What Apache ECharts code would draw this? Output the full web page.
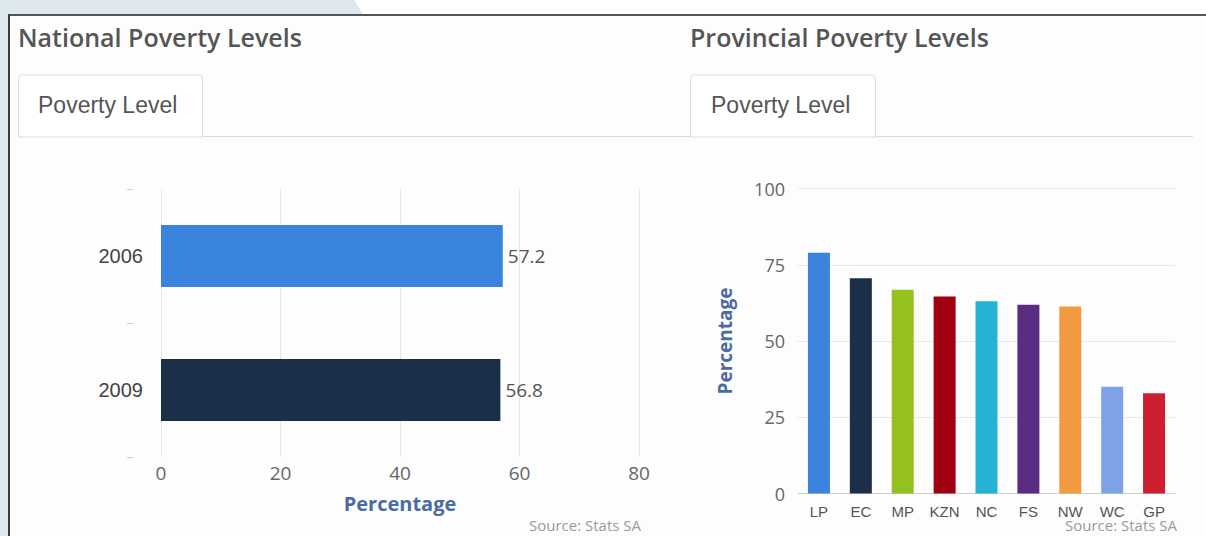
<!DOCTYPE html>
<html>
<head>
<meta charset="utf-8">
<script src="https://cdn.jsdelivr.net/npm/echarts@6/dist/echarts.min.js"></script>
<style>
  html, body { margin: 0; padding: 0; width: 1206px; height: 536px; overflow: hidden; background: #dde9ee; }
  #topband { position: absolute; left: 0; top: 0; width: 1206px; height: 14px; background: #ffffff;
    clip-path: polygon(354px 0, 1206px 0, 1206px 14px, 363px 14px); }
  #frame { position: absolute; left: 8px; top: 14px; width: 1198px; height: 522px; background: #fdfdfd;
    border-top: 2px solid #555; border-left: 2px solid #3a3a3a; box-sizing: border-box; }
  #chart { position: absolute; left: 0; top: 0; width: 1206px; height: 536px; }
</style>
</head>
<body>
<div id="topband"></div>
<div id="frame"></div>
<div id="chart"></div>
<script>
// ---- data ----
const nationalYears = ['2006', '2009'];
const nationalValues = [57.2, 56.8];
const nationalTicks = [0, 20, 40, 60, 80];

const provinces = ['LP', 'EC', 'MP', 'KZN', 'NC', 'FS', 'NW', 'WC', 'GP'];
const provincialValues = [78.9, 70.6, 66.8, 64.6, 63.0, 61.9, 61.3, 35.0, 32.9];
const provincialTicks = [0, 25, 50, 75, 100];

// ---- styles ----
const nationalColors = ['#3a84de', '#1c2f48'];
const provincialColors = ['#3a84de', '#1c2f48', '#95c11f', '#a00010', '#24b3d4', '#5b2d82', '#f39a40', '#7da3e6', '#cc2030'];

const titleFont = '"Open Sans", "Noto Sans", sans-serif';
const tabFont = '"Liberation Sans", Arial, sans-serif';
const numFont = '"Open Sans", "Noto Sans", sans-serif';

const chart = echarts.init(document.getElementById('chart'), null, { renderer: 'svg' });

function tab(x, w) {
  return {
    type: 'rect', shape: { x: x, y: 75, width: w, height: 62, r: [4, 4, 0, 0] },
    style: { fill: '#ffffff', stroke: '#dcdcdc', lineWidth: 1 }, z: 1
  };
}
function hline(x1, x2) {
  return { type: 'line', shape: { x1: x1, y1: 136.5, x2: x2, y2: 136.5 }, style: { stroke: '#dcdcdc', lineWidth: 1 }, z: 1 };
}

const option = {
  animation: false,
  backgroundColor: 'transparent',
  title: [
    { text: 'National Poverty Levels', left: 13, top: 19,
      textStyle: { fontFamily: titleFont, fontSize: 25, fontWeight: 600, color: '#555555' } },
    { text: 'Provincial Poverty Levels', left: 685, top: 19,
      textStyle: { fontFamily: titleFont, fontSize: 25, fontWeight: 600, color: '#555555' } }
  ],
  graphic: [
    hline(202, 657), hline(650, 690), hline(875, 1193),
    tab(18.5, 184), tab(690.5, 185),
    { type: 'text', left: 38, top: 93, z: 2,
      style: { text: 'Poverty Level', fontFamily: tabFont, fontSize: 23, fill: '#555555' } },
    { type: 'text', left: 711, top: 93, z: 2,
      style: { text: 'Poverty Level', fontFamily: tabFont, fontSize: 23, fill: '#555555' } },
    { type: 'text', right: 1206 - 641, top: 517, z: 2,
      style: { text: 'Source: Stats SA', fontFamily: numFont, fontSize: 15, fill: '#9a9a9a' } },
    { type: 'text', right: 1206 - 1177, top: 517, z: 2,
      style: { text: 'Source: Stats SA', fontFamily: numFont, fontSize: 15, fill: '#9a9a9a' } }
  ],
  grid: [
    { left: 161, top: 189, width: 478, height: 268 },
    { left: 798, top: 188.5, width: 377, height: 305 }
  ],
  xAxis: [
    { type: 'value', gridIndex: 0, min: nationalTicks[0], max: nationalTicks[nationalTicks.length - 1], interval: 20,
      axisLine: { show: false }, axisTick: { show: false },
      splitLine: { lineStyle: { color: '#e6e6e6' } },
      axisLabel: { fontFamily: numFont, fontSize: 19, color: '#666666', margin: 6 },
      name: 'Percentage', nameLocation: 'middle', nameGap: 36,
      nameTextStyle: { fontFamily: titleFont, fontSize: 20, fontWeight: 'bold', color: '#4a6ba3' } },
    { type: 'category', gridIndex: 1, data: provinces,
      axisLine: { lineStyle: { color: '#cfcfcf' } },
      axisTick: { alignWithLabel: true, length: 5, lineStyle: { color: '#cfcfcf' } },
      axisLabel: { fontFamily: tabFont, fontSize: 15, color: '#555555', margin: 10, interval: 0 } }
  ],
  yAxis: [
    { type: 'category', gridIndex: 0, data: nationalYears, inverse: true,
      axisLine: { show: false }, axisTick: { show: false },
      axisLabel: { fontFamily: tabFont, fontSize: 20, color: '#444444', margin: 18 } },
    { type: 'value', gridIndex: 1, min: provincialTicks[0], max: provincialTicks[provincialTicks.length - 1], interval: 25,
      axisLine: { show: false }, axisTick: { show: false },
      splitLine: { lineStyle: { color: '#e8e8e8' } },
      axisLabel: { fontFamily: numFont, fontSize: 18, color: '#666666', margin: 13 },
      name: 'Percentage', nameLocation: 'middle', nameGap: 64, nameRotate: 90,
      nameTextStyle: { fontFamily: titleFont, fontSize: 19, fontWeight: 'bold', color: '#4a6ba3' } },
    { type: 'category', gridIndex: 0, data: nationalYears, inverse: true, position: 'left',
      axisLine: { show: false },
      axisTick: { show: true, length: 34, lineStyle: { color: '#d0d0d0', type: [0, 28, 6, 0] } },
      axisLabel: { show: false } }
  ],
  series: [
    { type: 'bar', xAxisIndex: 0, yAxisIndex: 0, barWidth: 62,
      data: nationalValues.map((v, i) => ({ value: v, itemStyle: { color: nationalColors[i] } })),
      label: { show: true, position: 'right', distance: 5, fontFamily: numFont, fontSize: 19, color: '#555555' } },
    { type: 'bar', xAxisIndex: 1, yAxisIndex: 1, barWidth: 22,
      data: provincialValues.map((v, i) => ({ value: v, itemStyle: { color: provincialColors[i] } })) }
  ]
};
chart.setOption(option);
</script>
</body>
</html>
